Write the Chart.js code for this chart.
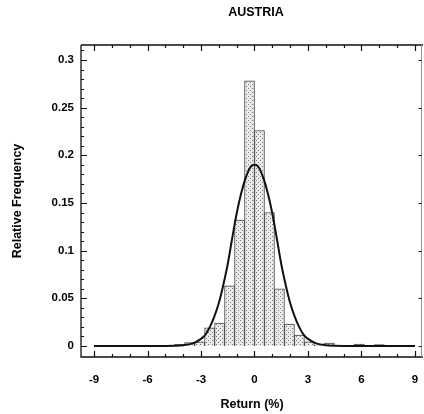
<!DOCTYPE html>
<html><head><meta charset="utf-8">
<script src="https://cdn.jsdelivr.net/npm/chart.js@4"></script>
<style>html,body{margin:0;padding:0;background:#fff}</style>
</head><body>
<canvas id="c" width="424" height="414"></canvas>
<script>
const chartTitle = 'AUSTRIA';
const binCenters = [-7.56,-7.0,-6.44,-5.88,-5.32,-4.76,-4.2,-3.64,-3.08,-2.52,-1.96,-1.4,-0.84,-0.28,0.28,0.84,1.4,1.96,2.52,3.08,3.64,4.2,4.76,5.32,5.88,6.44,7.0];
const relFreq    = [0.0005,0,0,0,0,0,0.0018,0.0035,0.0045,0.019,0.024,0.063,0.132,0.278,0.226,0.140,0.060,0.023,0.0115,0.0045,0.001,0.003,0.0007,0,0.002,0,0.0015];
const curveX = [-9,-6,-5,-4.5,-4,-3.5,-3,-2.75,-2.5,-2.25,-2,-1.75,-1.5,-1.25,-1,-0.75,-0.5,-0.25,0,0.25,0.5,0.75,1,1.25,1.5,1.75,2,2.25,2.5,2.75,3,3.5,4,4.5,5,6,9];
const curveY = [0,0,0.0001,0.0003,0.0008,0.0025,0.0075,0.012,0.020,0.031,0.045,0.064,0.086,0.113,0.139,0.160,0.176,0.187,0.190,0.187,0.176,0.160,0.139,0.113,0.086,0.064,0.045,0.031,0.020,0.012,0.0075,0.0025,0.0008,0.0003,0.0001,0,0];
const xTickLabels = [-9,-6,-3,0,3,6,9];
const yTickLabels = [0,0.05,0.1,0.15,0.2,0.25,0.3];

const FONT = "'Liberation Sans', Arial, Helvetica, sans-serif";

const pc = document.createElement('canvas');
pc.width = 4; pc.height = 4;
const pctx = pc.getContext('2d');
pctx.fillStyle = '#ebebeb'; pctx.fillRect(0,0,4,4);
pctx.fillStyle = '#7a7a7a';
pctx.fillRect(0,0,1,1); pctx.fillRect(2,2,1,1);
const ctx0 = document.getElementById('c').getContext('2d');
const stipple = ctx0.createPattern(pc, 'repeat');

const framePlugin = {
  id: 'frame',
  afterDatasetsDraw(chart) {
    const {ctx, chartArea: {left, right, top, bottom}, scales: {x, y}} = chart;
    ctx.save();
    ctx.strokeStyle = '#111';
    ctx.lineWidth = 1.3;
    ctx.beginPath();
    ctx.moveTo(left, top); ctx.lineTo(left, bottom); ctx.lineTo(right, bottom);
    ctx.moveTo(left, top); ctx.lineTo(right, top);
    ctx.stroke();
    ctx.strokeStyle = '#999';
    ctx.lineWidth = 1;
    ctx.beginPath();
    ctx.moveTo(right - 1.5, top); ctx.lineTo(right - 1.5, bottom);
    ctx.stroke();
    ctx.strokeStyle = '#111';
    ctx.lineWidth = 1.2;
    ctx.beginPath();
    for (let v = -9; v <= 9; v++) {
      const px = Math.round(x.getPixelForValue(v)) + 0.5;
      const len = (v % 3 === 0) ? 6 : 3;
      ctx.moveTo(px, bottom); ctx.lineTo(px, bottom - len);
      ctx.moveTo(px, top); ctx.lineTo(px, top + len);
    }
    for (let i = 0; i <= 31; i++) {
      const v = i / 100;
      const py = Math.round(y.getPixelForValue(v)) + 0.5;
      const len = (i % 5 === 0) ? 6 : 3;
      ctx.moveTo(left, py); ctx.lineTo(left + len, py);
      if (i % 5 === 0) { ctx.moveTo(right - 1.5, py); ctx.lineTo(right - 4.5, py); }
    }
    ctx.stroke();
    // chart title, centred over the plot
    ctx.fillStyle = '#000';
    ctx.font = 'bold 12.5px ' + FONT;
    ctx.textAlign = 'center';
    ctx.textBaseline = 'middle';
    ctx.fillText(chartTitle, (left + right) / 2 + 4, 13);
    ctx.restore();
  }
};

new Chart(ctx0, {
  data: {
    datasets: [
      {
        type: 'line',
        order: 0,
        data: curveX.map((v, i) => ({x: v, y: curveY[i]})),
        borderColor: '#111',
        borderWidth: 2,
        pointRadius: 0,
        cubicInterpolationMode: 'monotone',
        fill: false
      },
      {
        type: 'bar',
        order: 1,
        data: binCenters.map((v, i) => ({x: v, y: relFreq[i]})),
        backgroundColor: stipple,
        borderColor: '#444',
        borderWidth: ctx => (ctx.raw && ctx.raw.y > 0) ? 1 : 0,
        borderSkipped: 'start',
        categoryPercentage: 1.0,
        barPercentage: 1.0
      }
    ]
  },
  options: {
    responsive: false,
    devicePixelRatio: 1,
    animation: false,
    events: [],
    layout: {padding: {left: 0, right: 1, top: 45, bottom: 0}},
    plugins: {
      legend: {display: false},
      tooltip: {enabled: false},
      title: {display: false}
    },
    scales: {
      x: {
        type: 'linear',
        min: -9.73,
        max: 9.45,
        offset: false,
        grid: {display: false, drawTicks: false},
        border: {display: false},
        afterBuildTicks: s => { s.ticks = xTickLabels.map(v => ({value: v})); },
        afterFit: s => { s.height = 57; s.paddingLeft = 0; s.paddingRight = 0; },
        ticks: {
          color: '#000',
          padding: 16,
          maxRotation: 0,
          autoSkip: false,
          font: {family: FONT, size: 11.5, weight: 'bold'},
          callback: v => String(v)
        },
        title: {
          display: true,
          text: 'Return (%)',
          color: '#000',
          font: {family: FONT, size: 12.5, weight: 'bold'},
          padding: {top: 0, bottom: 1.5}
        }
      },
      y: {
        type: 'linear',
        min: -0.01154,
        max: 0.3157,
        grid: {display: false, drawTicks: false},
        border: {display: false},
        afterBuildTicks: s => { s.ticks = yTickLabels.map(v => ({value: v})); },
        afterFit: s => { s.width = 81; s.paddingTop = 0; s.paddingBottom = 0; },
        ticks: {
          color: '#000',
          padding: 7,
          autoSkip: false,
          font: {family: FONT, size: 11.5, weight: 'bold'},
          callback: v => String(v)
        },
        title: {
          display: true,
          text: 'Relative Frequency',
          color: '#000',
          font: {family: FONT, size: 12.5, weight: 'bold'},
          padding: {top: 10, bottom: 0}
        }
      }
    }
  },
  plugins: [framePlugin]
});
</script>
</body></html>
